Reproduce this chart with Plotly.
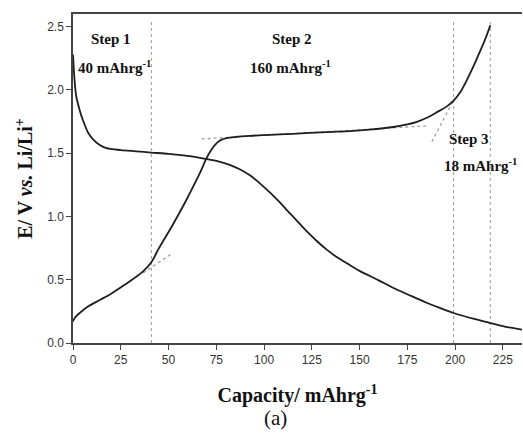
import plotly.graph_objects as go

# Charge curve (ascending)
charge_x = [0, 1, 3.5, 8, 14, 20, 24.5, 30, 36.7, 41.1, 45, 50.7, 55, 59.4, 63, 66.4, 69.9,
            72.5, 75.2, 77.5, 80.4, 85, 92.6, 100, 115, 132.8, 145, 155, 167.7, 175, 180,
            185.2, 190, 195.7, 199.2, 203, 206.2, 210, 213.2, 216, 218.4]
charge_y = [0.17, 0.20, 0.237, 0.29, 0.34, 0.39, 0.435, 0.49, 0.566, 0.64, 0.75, 0.895, 1.01,
            1.132, 1.24, 1.343, 1.461, 1.53, 1.579, 1.605, 1.619, 1.628, 1.637, 1.643, 1.653,
            1.667, 1.675, 1.686, 1.707, 1.727, 1.748, 1.78, 1.82, 1.87, 1.915, 1.99, 2.08, 2.20,
            2.31, 2.41, 2.51]

# Discharge curve (descending)
discharge_x = [0, 0.8, 1.7, 3.5, 5.2, 8, 10.5, 14, 17.5, 25, 33, 41, 50, 60, 70, 76, 82, 87,
               92.6, 97.8, 103, 108, 113.5, 120, 124, 128, 132.8, 138, 145, 150, 160, 167.7,
               175, 185, 192, 199.2, 210, 218.4, 226, 235]
discharge_y = [2.28, 2.08, 1.95, 1.84, 1.76, 1.66, 1.61, 1.565, 1.54, 1.525, 1.515, 1.505,
               1.495, 1.478, 1.453, 1.435, 1.408, 1.375, 1.325, 1.262, 1.19, 1.115, 1.025, 0.92,
               0.858, 0.80, 0.738, 0.68, 0.615, 0.57, 0.495, 0.435, 0.385, 0.318, 0.277, 0.237,
               0.19, 0.158, 0.13, 0.105]

# Tangent construction lines
tangent1_x = [36.7, 51.6]
tangent1_y = [0.553, 0.705]
tangent2_x = [67.3, 185.2]
tangent2_y = [1.613, 1.716]
tangent3_x = [187.8, 199.2]
tangent3_y = [1.59, 1.92]

# Step boundaries
step_bounds = [41, 199.2, 218.4]
bound_top = 2.55

x_ticks = [0, 25, 50, 75, 100, 125, 150, 175, 200, 225]
y_ticks = [0.0, 0.5, 1.0, 1.5, 2.0, 2.5]

serif = "Liberation Serif, Times New Roman, serif"
sans = "Liberation Sans, Arial, sans-serif"
dot_color = "#9a9a9a"
line_color = "#1e1e1e"

fig = go.Figure()

for xb in step_bounds:
    fig.add_trace(go.Scatter(x=[xb, xb], y=[0, bound_top], mode="lines",
                             line=dict(color=dot_color, width=1, dash="dot"),
                             showlegend=False, hoverinfo="skip"))

for tx, ty in [(tangent1_x, tangent1_y), (tangent2_x, tangent2_y), (tangent3_x, tangent3_y)]:
    fig.add_trace(go.Scatter(x=tx, y=ty, mode="lines",
                             line=dict(color=dot_color, width=1.2, dash="dot"),
                             showlegend=False, hoverinfo="skip"))

fig.add_trace(go.Scatter(x=discharge_x, y=discharge_y, mode="lines",
                         line=dict(color=line_color, width=1.8, shape="spline", smoothing=0.8),
                         showlegend=False))
fig.add_trace(go.Scatter(x=charge_x, y=charge_y, mode="lines",
                         line=dict(color=line_color, width=1.8, shape="spline", smoothing=0.8),
                         showlegend=False))

step_font = dict(family=serif, size=15, color="#111")
cap_font = dict(family=serif, size=15, color="#111")
annotations = [
    dict(x=19.9, y=2.40, text="<b>Step 1</b>", font=step_font),
    dict(x=21.9, y=2.184, text="<b>40 mAhrg<sup>-1</sup></b>", font=cap_font),
    dict(x=114.4, y=2.40, text="<b>Step 2</b>", font=step_font),
    dict(x=113.6, y=2.184, text="<b>160 mAhrg<sup>-1</sup></b>", font=cap_font),
    dict(x=207.5, y=1.613, text="<b>Step 3</b>", font=step_font),
    dict(x=213.2, y=1.408, text="<b>18 mAhrg<sup>-1</sup></b>", font=cap_font),
]
for a in annotations:
    a.update(xref="x", yref="y", showarrow=False, xanchor="center", yanchor="middle")
annotations.append(dict(x=0.45, y=-0.228, xref="paper", yref="paper", text="(a)",
                        showarrow=False, font=dict(family=serif, size=21, color="#111"),
                        xanchor="center", yanchor="middle"))

fig.update_layout(
    width=523, height=435,
    margin=dict(l=73, r=1, t=14, b=92),
    paper_bgcolor="white", plot_bgcolor="white",
    annotations=annotations,
    xaxis=dict(range=[0, 235], tickvals=x_ticks, ticks="outside", ticklen=5, tickwidth=1,
               tickcolor="#444", showline=True, linecolor="#444", linewidth=1.5, mirror=True,
               showgrid=False, zeroline=False,
               tickfont=dict(family=sans, size=12, color="#333"),
               title=dict(text="<b>Capacity/ mAhrg<sup>-1</sup></b>",
                          font=dict(family=serif, size=20, color="#111"), standoff=22)),
    yaxis=dict(range=[0, 2.6], tickvals=y_ticks, tickformat=".1f", ticks="outside", ticklen=5,
               tickwidth=1, tickcolor="#444", showline=True, linecolor="#444", linewidth=1.5,
               mirror=False, showgrid=False, zeroline=False,
               tickfont=dict(family=sans, size=12, color="#333"),
               title=dict(text="<b>E/ V <i>vs.</i> Li/Li<sup>+</sup></b>",
                          font=dict(family=serif, size=20, color="#111"), standoff=9)),
)

fig.write_html("out.html", config={"displayModeBar": False},
               post_script="document.body.style.margin='0';document.body.style.overflow='hidden';")
